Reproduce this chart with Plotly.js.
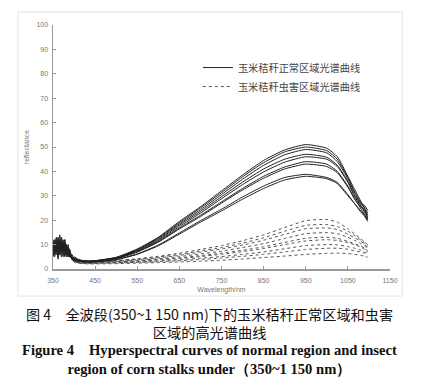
<!DOCTYPE html>
<html><head><meta charset="utf-8">
<script src="https://cdn.plot.ly/plotly-3.0.1.min.js"></script>
<style>html,body{margin:0;padding:0;background:#fff}#chart{width:429px;height:387px}</style>
</head><body><div id="chart"></div>
<script>
// Wavelength (nm) sample points
const wavelength = [350,354,358,362,366,370,374,378,382,386,390,395,400,410,420,435,450,500,550,600,650,700,750,800,850,900,950,1000,1025,1050,1065,1080,1090,1097];

// Normal region curves (solid)
const normal1 = [9,12,7,13,8,11,6,12,7,9,6,5,4.5,3.8,3.4,3.2,3.4,4.8,8.2,13,19.5,25.5,32,38.5,44.5,48.8,51,49.5,46,38,33,28,25,23];
const normal2 = [8,5,11,7,14,9,10,5,9,7,8,4,5,4,3.5,3.3,3.4,4.7,8,12.8,19,25,31.3,37.8,43.6,48,50,48.5,45,37.5,32,27.5,24.5,22];
const normal3 = [11,7,9,4,10,13,8,9,6,10,5,6,4,3.5,3.2,3.1,3.3,4.6,7.8,12.4,18.5,24.3,30.5,36.8,42.5,46.8,49,47.6,44,37,31.5,27,26,24];
const normal4 = [6,10,13,8,6,9,12,7,10,5,7,5,4.2,3.6,3.3,3.2,3.3,4.5,7.5,12,18,23.6,29.6,35.6,41,45,47,45.8,42.5,36,30.5,26.5,23,21];
const normal5 = [10,8,6,12,9,5,10,8,5,8,6,4.5,4,3.5,3.2,3.1,3.2,4.4,7.3,11.6,17.4,22.9,28.8,34.6,39.8,43.8,46,45,42,35.5,30,26,24,22];
const normal6 = [7,11,9,6,11,8,7,11,8,6,5,5,3.8,3.4,3.1,3,3.1,4.2,7,11.2,16.8,22,27.5,33,38,41.8,44,43,40,34,29,25.5,24,21];
const normal7 = [12,6,8,10,7,12,9,6,7,9,7,4,4.4,3.7,3.3,3.1,3.2,4.3,7,11,16.4,21.5,27,32.4,37.2,41,43,42,39.5,33.5,29,25,22,20];
const normal8 = [8,9,12,5,9,7,11,9,6,7,5,5,3.6,3.2,3,2.9,3,3.9,6.2,9.8,14.8,19.8,24.5,29.5,34,37.5,38.8,37.5,35.5,30.5,27,24,22,20.5];
const normal9 = [5,8,10,9,6,10,5,8,9,5,6,4,3.5,3.1,2.9,2.8,2.9,3.8,6,9.5,14.3,19.2,23.8,28.6,33,36.5,38,37,35,30,27,23.5,21.5,19.5];

// Insect-damaged region curves (dotted)
const insect1 = [9,6,11,8,12,7,9,10,6,8,5,4,3.6,3.2,3,2.9,3,3.5,4.2,5.2,6.5,8,9.6,11.6,14,17,19.8,20.3,19.2,16.5,14.5,12.5,11,10];
const insect2 = [7,10,8,12,6,9,11,7,8,6,7,4.5,3.5,3.1,2.9,2.8,2.9,3.4,4,4.9,6,7.4,8.8,10.6,12.8,15.5,17.9,18.2,17.4,15.5,13.8,12,10.5,9.5];
const insect3 = [11,8,6,9,10,13,7,8,10,7,5,5,3.4,3,2.8,2.7,2.8,3.2,3.8,4.6,5.6,6.9,8.2,9.8,11.8,14.2,16.5,16.8,16.2,14.3,12.8,11.5,10,9];
const insect4 = [8,12,9,7,8,10,6,12,7,9,6,4,3.3,2.9,2.7,2.6,2.7,3,3.5,4.2,5.1,6.2,7.3,8.8,10.4,12.5,14.5,14.9,14.5,13,11.8,10.5,9.5,8];
const insect5 = [6,9,13,10,7,8,10,9,5,7,6,4.5,3.2,2.8,2.6,2.5,2.6,2.9,3.3,3.9,4.6,5.5,6.5,7.7,9.1,10.9,12.6,13,12.6,11.3,10.4,9.5,8.5,7.5];
const insect6 = [10,7,8,11,9,6,12,8,9,6,5,4,3.1,2.7,2.5,2.4,2.5,2.8,3.2,3.7,4.3,5.1,6,7.1,8.4,10,11.5,12,11.7,10.8,10,9,8,7];
const insect7 = [7,11,9,8,12,9,7,10,8,7,6,5,3,2.6,2.4,2.3,2.4,2.6,2.9,3.3,3.8,4.4,5.1,6,7,8.3,9.6,10,9.9,9.2,8.6,7.8,7,6.5];
const insect8 = [12,8,10,6,9,11,8,7,10,6,6,4,2.9,2.5,2.3,2.2,2.3,2.5,2.7,3,3.4,3.9,4.5,5.2,6,7,8,8.5,8.5,8.1,7.5,7,6.5,6];
const insect9 = [8,10,7,11,6,8,9,12,6,8,5,4.5,2.8,2.4,2.2,2.1,2.1,2.2,2.4,2.6,2.9,3.2,3.6,4.1,4.7,5.3,6,6.4,6.5,6.3,6,5.6,5.2,4.8];

const normalSeries = [normal1,normal2,normal3,normal4,normal5,normal6,normal7,normal8,normal9];
const insectSeries = [insect1,insect2,insect3,insect4,insect5,insect6,insect7,insect8,insect9];

const legendNormal = '玉米秸秆正常区域光谱曲线';
const legendInsect = '玉米秸秆虫害区域光谱曲线';
const xTicks = [350,450,550,650,750,850,950,1050,1150];
const yTicks = [0,10,20,30,40,50,60,70,80,90,100];
const xTitle = 'Wavelength/nm';
const yTitle = 'reflectance';
const captionCn = ['图 4　全波段(350~1 150 nm)下的玉米秸秆正常区域和虫害', '区域的高光谱曲线'];
const captionEn = ['Figure 4　Hyperspectral curves of normal region and insect', 'region of corn stalks under（350~1 150 nm）'];

const traces = [];
insectSeries.forEach((s,i)=>traces.push({
  x: wavelength, y: s, type:'scatter', mode:'lines',
  name: legendInsect, showlegend: i===0, legendrank: 2,
  line:{color:'#555', width:1, dash:'dot', shape:'spline', smoothing:0.5}
}));
normalSeries.forEach((s,i)=>traces.push({
  x: wavelength, y: s, type:'scatter', mode:'lines',
  name: legendNormal, showlegend: i===0, legendrank: 1,
  line:{color:'#222', width:1, shape:'spline', smoothing:0.5}
}));

const tickFont = {family:'Liberation Sans, Arial, sans-serif', size:7, color:'#777'};
const layout = {
  width:429, height:387,
  margin:{l:53, r:39, t:25, b:118},
  paper_bgcolor:'#fff', plot_bgcolor:'rgba(0,0,0,0)',
  showlegend:true,
  legend:{x:0.43, y:0.885, xanchor:'left', yanchor:'top', bgcolor:'rgba(0,0,0,0)',
    font:{family:'Noto Sans CJK SC, sans-serif', size:10.2, color:'#444'},
    tracegroupgap:0, itemwidth:30, traceorder:'normal'},
  xaxis:{range:[350,1150], tickvals:xTicks, ticktext:xTicks.map(String),
    showline:true, linecolor:'#999', linewidth:1.5, ticks:'inside', ticklen:3, tickcolor:'#999',
    showgrid:false, zeroline:false, tickfont:tickFont, ticklabelstandoff:4,
    title:{text:xTitle, font:tickFont, standoff:4}},
  yaxis:{range:[0,100], tickvals:yTicks, ticktext:yTicks.map(String),
    showline:true, linecolor:'#999', linewidth:1.5, ticks:'inside', ticklen:3, tickcolor:'#999',
    showgrid:false, zeroline:false, tickfont:tickFont, ticklabelstandoff:2,
    title:{text:yTitle, font:tickFont, standoff:6}},
  shapes:[{type:'rect', xref:'paper', yref:'paper', x0:-0.104, x1:1.036, y0:-0.111, y1:1.053,
    line:{color:'#e2e2e2', width:1}, layer:'below'}],
  annotations:[
    {text:captionCn.join('<br>'), xref:'paper', yref:'paper', x:0.463, y:-0.135, showarrow:false, xanchor:'center', yanchor:'top', align:'center',
      font:{family:'Noto Sans CJK SC, sans-serif', size:14.2, color:'#111'}},
    {text:'<b>'+captionEn.join('<br>')+'</b>', xref:'paper', yref:'paper', x:0.463, y:-0.29, showarrow:false, xanchor:'center', yanchor:'top', align:'center',
      font:{family:'Liberation Serif, Times New Roman, serif', size:14.6, color:'#111'}}
  ]
};
Plotly.newPlot('chart', traces, layout, {staticPlot:true, displayModeBar:false});
</script>
</body></html>
